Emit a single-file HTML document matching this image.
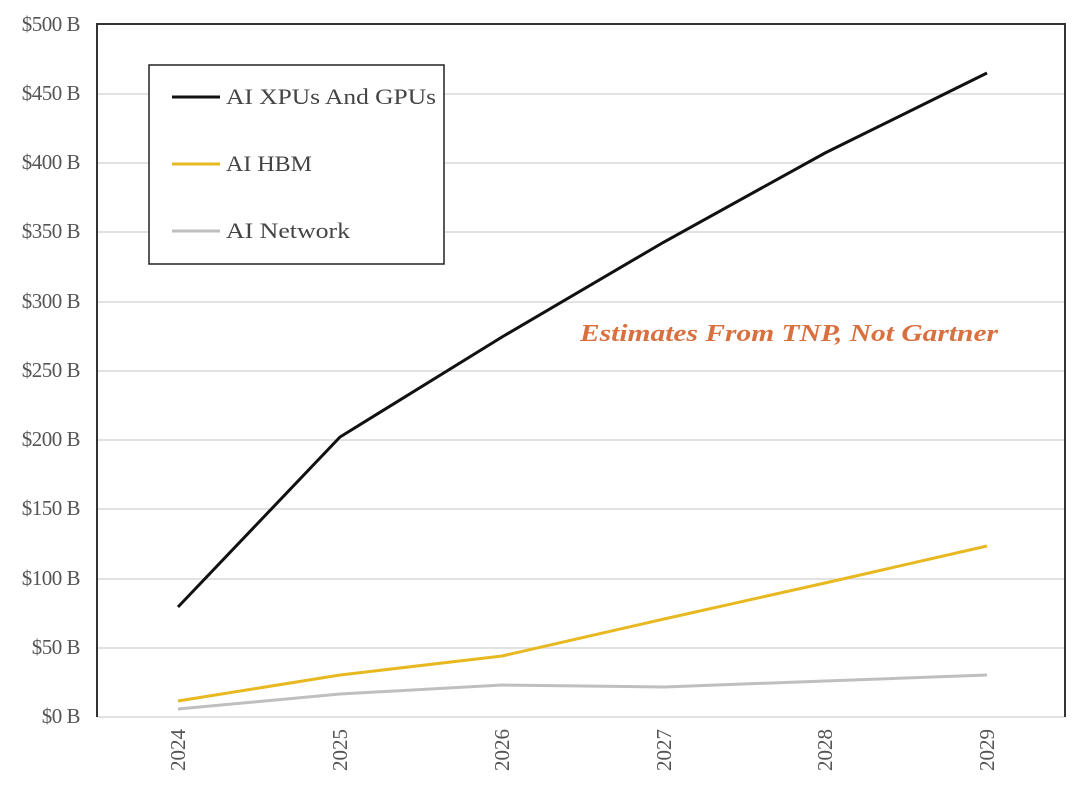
<!DOCTYPE html>
<html><head><meta charset="utf-8"><style>
body{margin:0;background:#fff;}
svg text{font-family:"Liberation Serif",serif;}
</style></head><body>
<svg width="1080" height="791" viewBox="0 0 1080 791" xmlns="http://www.w3.org/2000/svg">
<rect width="1080" height="791" fill="#fff"/>
<g stroke="#d9d9d9" stroke-width="1.5">
<line x1="97" x2="1065" y1="94" y2="94"/><line x1="97" x2="1065" y1="163" y2="163"/>
<line x1="97" x2="1065" y1="232" y2="232"/><line x1="97" x2="1065" y1="302" y2="302"/>
<line x1="97" x2="1065" y1="371" y2="371"/><line x1="97" x2="1065" y1="440" y2="440"/>
<line x1="97" x2="1065" y1="509" y2="509"/><line x1="97" x2="1065" y1="579" y2="579"/>
<line x1="97" x2="1065" y1="648" y2="648"/><line x1="97" x2="1065" y1="717" y2="717"/>
</g>
<polyline points="97,717 97,24 1065,24 1065,717" fill="none" stroke="#333" stroke-width="2"/>
<g font-size="21" fill="#555" text-anchor="end" letter-spacing="-0.5">
<text x="80" y="31">$500 B</text><text x="80" y="100">$450 B</text><text x="80" y="169">$400 B</text>
<text x="80" y="238">$350 B</text><text x="80" y="308">$300 B</text><text x="80" y="377">$250 B</text>
<text x="80" y="446">$200 B</text><text x="80" y="515">$150 B</text><text x="80" y="585">$100 B</text>
<text x="80" y="654">$50 B</text><text x="80" y="723">$0 B</text>
</g>
<g font-size="21" fill="#555" text-anchor="middle">
<text transform="translate(185,750) rotate(-90)">2024</text>
<text transform="translate(347,750) rotate(-90)">2025</text>
<text transform="translate(509,750) rotate(-90)">2026</text>
<text transform="translate(671,750) rotate(-90)">2027</text>
<text transform="translate(832,750) rotate(-90)">2028</text>
<text transform="translate(994,750) rotate(-90)">2029</text>
</g>
<polyline points="178,709 340,694 502,685 664,687 825,681 987,675" fill="none" stroke="#bfbfbf" stroke-width="3"/>
<polyline points="178,701 340,675 502,656 664,619 825,583 987,546" fill="none" stroke="#e8b820" stroke-width="3"/>
<polyline points="178,607 340,437 502,337 664,242 825,153 987,73" fill="none" stroke="#111" stroke-width="3"/>
<rect x="149" y="65" width="295" height="199" fill="#fff" stroke="#222" stroke-width="1.5"/>
<line x1="172" x2="220" y1="97" y2="97" stroke="#111" stroke-width="3"/>
<line x1="172" x2="220" y1="164" y2="164" stroke="#e8b820" stroke-width="3"/>
<line x1="172" x2="220" y1="231" y2="231" stroke="#bfbfbf" stroke-width="3"/>
<g font-size="22" fill="#444">
<text x="226" y="104" textLength="210" lengthAdjust="spacingAndGlyphs">AI XPUs And GPUs</text>
<text x="226" y="171" textLength="86" lengthAdjust="spacingAndGlyphs">AI HBM</text>
<text x="226" y="238" textLength="124" lengthAdjust="spacingAndGlyphs">AI Network</text>
</g>
<text x="580" y="341" textLength="418" lengthAdjust="spacingAndGlyphs" font-size="24" font-weight="bold" font-style="italic" fill="#d9703f">Estimates From TNP, Not Gartner</text>
</svg>
</body></html>
